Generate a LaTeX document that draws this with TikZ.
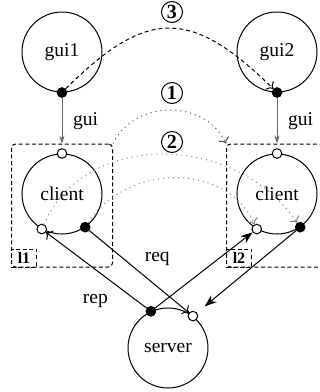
\documentclass[tikz,border=0pt]{standalone}
\usepackage{fontspec}
\setmainfont{Liberation Serif}
\usetikzlibrary{arrows.meta,calc,positioning}
\definecolor{lnkgray}{gray}{.4}
\definecolor{msggray}{gray}{.5}

\begin{document}
\begin{tikzpicture}[x=.5pt,y=-.5pt,>=To,line width=.5pt,
  font=\fontsize{9.75}{11}\selectfont,
  proc/.style={circle,draw,minimum size=40pt,inner sep=0pt},
  outp/.style={circle,draw,fill=black,inner sep=0pt,minimum size=4.8pt},
  inp/.style={outp,fill=white},
  grp/.style={draw,dash pattern=on 2pt off 1.3pt,rounded corners=2pt,
    minimum width=50.5pt,minimum height=61.5pt,inner sep=0pt},
  tag/.style={draw,dash pattern=on 2pt off 1.3pt,minimum width=12.5pt,
    minimum height=9pt,inner sep=0pt,font=\bfseries\fontsize{8}{9}\selectfont},
  num/.style={circle,draw,minimum size=10.5pt,inner sep=0pt,font=\bfseries},
  guilnk/.style={draw=lnkgray,-{Stealth[length=4pt,width=2.6pt]}},
  call/.style={-{Stealth[length=6pt,width=4.4pt]}},
  msg/.style={->,msggray,dotted}]
\useasboundingbox (0,0) rectangle (320,392);

% processes
\node[proc] (gui1) at (62,52) {gui1};
\node[proc] (gui2) at (277,52) {gui2};
\node[proc] (client1) at (62,194) {client};
\node[proc] (client2) at (277,194) {client};
\node[proc] (server) at (168,348) {server};

% locations l1, l2
\node[grp] (box1) at (62,205.5) {};
\node[grp] (box2) at (277,205.5) {};
\node[tag,anchor=south west] (l1) at (box1.south west) {l1};
\node[tag,anchor=south west] (l2) at (box2.south west) {l2};

% ports
\node[outp] (g1out) at (gui1.south) {};
\node[outp] (g2out) at (gui2.south) {};
\node[inp] (c1gui) at (client1.north) {};
\node[inp] (c2gui) at (client2.north) {};
\node[inp] (c1rep) at (client1.240) {};
\node[outp] (c1req) at (client1.305) {};
\node[inp] (c2rep) at (client2.240) {};
\node[outp] (c2req) at (client2.305) {};
\node[outp] (srep) at (server.115) {};
\node[inp] (sreq) at (server.52) {};

% gui links
\draw[guilnk] (g1out) -- (box1.north) node[midway,right=2pt] {gui};
\draw[guilnk] (g2out) -- (box2.north) node[midway,right=2pt] {gui};

% request / reply channels
\draw[->] (c1req) -- (sreq) node[midway,above right=-1pt] {req};
\draw[->] (srep) -- (c1rep) node[pos=.3,below left=1pt] {rep};
\draw[call] (srep) -- (c2rep);
\draw[call,shorten >=5pt] (c2req) -- (sreq);

% migration steps
\draw[->,dash pattern=on 2pt off 1.5pt] (g1out) .. controls (147,8) and (191,8) .. (g2out);
\draw[->,dotted,black!70] (box1.north east) .. controls (135,99) and (205,99) .. (box2.north west);
\draw[msg] (c1rep) .. controls (85,130) and (235,132) .. (c2req);
\draw[msg] (c1req) .. controls (125,165) and (225,160) .. (c2rep);
\node[num] (n3) at (172,12) {3};
\node[num] (n1) at (172,93) {1};
\node[num] (n2) at (172,142) {2};
\end{tikzpicture}
\end{document}
